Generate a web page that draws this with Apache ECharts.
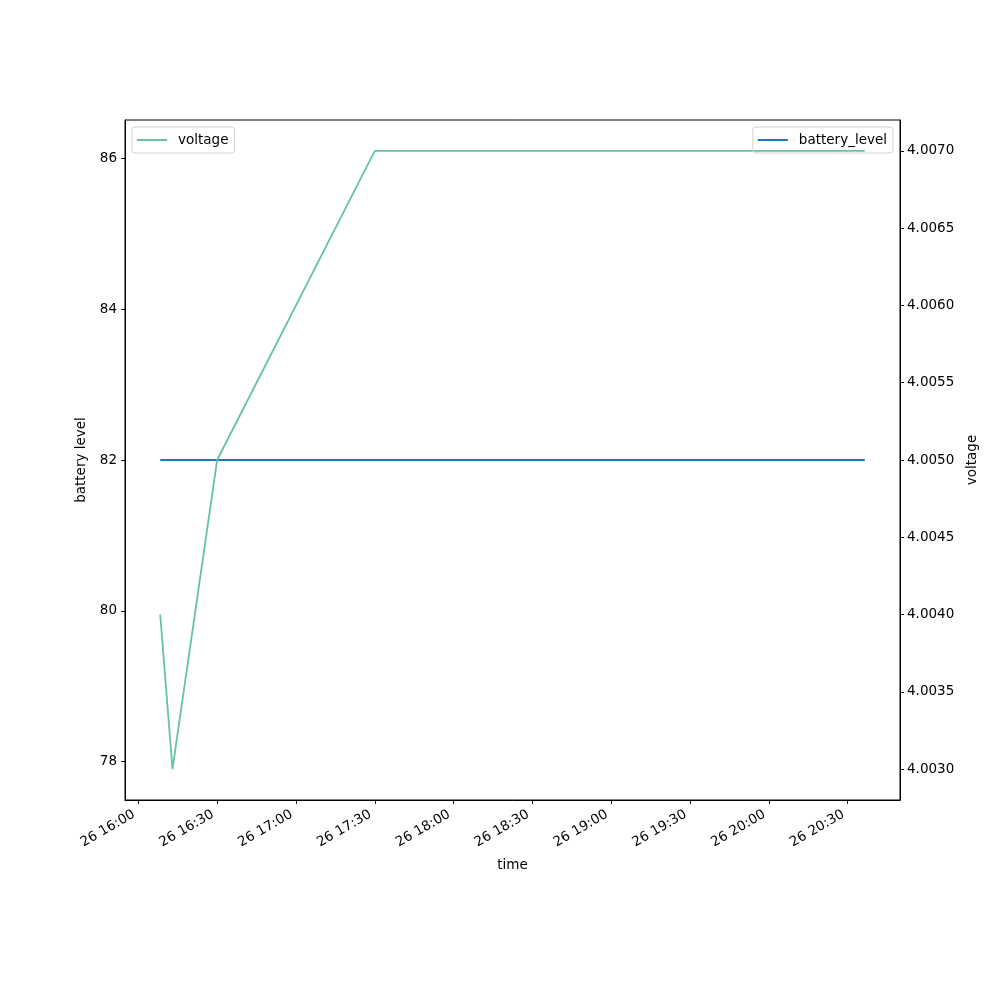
<!DOCTYPE html>
<html><head><meta charset="utf-8">
<script src="https://cdn.jsdelivr.net/npm/echarts@6/dist/echarts.min.js"></script>
<style>html,body{margin:0;padding:0;background:#fff}#c{width:1000px;height:1000px}</style>
</head><body><div id="c"></div>
<script>
const times = ['2024-01-26 16:08:20', '2024-01-26 16:13:00', '2024-01-26 16:30:00', '2024-01-26 17:30:00', '2024-01-26 20:36:30'];
const voltage = [4.0040, 4.0030, 4.0050, 4.0070, 4.0070];
const batteryTimes = ['2024-01-26 16:08:20', '2024-01-26 20:36:30'];
const batteryLevel = [82, 82];
const xTickLabels = ['2024-01-26 16:00', '2024-01-26 16:30', '2024-01-26 17:00', '2024-01-26 17:30', '2024-01-26 18:00', '2024-01-26 18:30', '2024-01-26 19:00', '2024-01-26 19:30', '2024-01-26 20:00', '2024-01-26 20:30'];
const leftTicks = [78, 80, 82, 84, 86];
const rightTicks = [4.0030, 4.0035, 4.0040, 4.0045, 4.0050, 4.0055, 4.0060, 4.0065, 4.0070];

const origin = '2024-01-26 16:00';
function ts(s){ const [d,t]=s.split(' '); const [y,m,dd]=d.split('-').map(Number); const p=t.split(':').map(Number); return Date.UTC(y,m-1,dd,p[0],p[1],p[2]||0); }
const t0 = ts(origin);
const mins = s => (ts(s) - t0) / 60000;
const xTickVals = xTickLabels.map(mins);
const tMin = mins(times[0]), tMax = mins(times[times.length-1]);
const pad = (tMax - tMin) * 0.05;
const fmtX = v => { const d = new Date(t0 + v * 60000); return d.getUTCDate() + ' ' + String(d.getUTCHours()).padStart(2,'0') + ':' + String(d.getUTCMinutes()).padStart(2,'0'); };
const font = 'DejaVu Sans';
const fs = 13.5;
const chart = echarts.init(document.getElementById('c'));
const legendBase = {itemWidth: 30, itemHeight: 2, padding: [6, 6, 6, 5], borderColor: '#d0d0d0', borderWidth: 1, borderRadius: 3, icon: 'rect',
  textStyle: {fontSize: fs, color: '#000', fontFamily: font, padding: [0, 0, 0, 6]}};
chart.setOption({
  animation: false,
  textStyle: {fontFamily: font},
  grid: {left: 125, right: 100, top: 120, bottom: 200, show: true, borderColor: '#000', borderWidth: 1, containLabel: false},
  legend: [
    Object.assign({data: ['voltage'], left: 132, top: 127}, legendBase),
    Object.assign({data: ['battery_level'], right: 107, top: 127}, legendBase)
  ],
  xAxis: {
    type: 'value', min: tMin - pad, max: tMax + pad,
    name: 'time', nameLocation: 'middle', nameGap: 58, nameTextStyle: {fontSize: fs, color: '#000', fontFamily: font},
    axisLine: {show: true, onZero: false, lineStyle: {color: '#000'}},
    axisTick: {show: true, length: 4, lineStyle: {color: '#000'}, customValues: xTickVals},
    axisLabel: {rotate: 30, fontSize: fs, color: '#000', fontFamily: font, margin: 11, padding: [0, 5, 0, 0], customValues: xTickVals, formatter: fmtX},
    splitLine: {show: false}
  },
  yAxis: [
    {type: 'value', min: 77.49, max: 86.51, position: 'left',
      name: 'battery level', nameLocation: 'middle', nameGap: 34, nameTextStyle: {fontSize: fs, color: '#000', fontFamily: font},
      axisLine: {show: true, onZero: false, lineStyle: {color: '#000'}},
      axisTick: {show: true, length: 4, lineStyle: {color: '#000'}, customValues: leftTicks},
      axisLabel: {fontSize: fs, color: '#000', fontFamily: font, margin: 8, customValues: leftTicks},
      splitLine: {show: false}},
    {type: 'value', min: 4.0028, max: 4.0072, position: 'right',
      name: 'voltage', nameLocation: 'middle', nameGap: 64, nameTextStyle: {fontSize: fs, color: '#000', fontFamily: font},
      axisLine: {show: true, onZero: false, lineStyle: {color: '#000'}},
      axisTick: {show: true, length: 4, lineStyle: {color: '#000'}, customValues: rightTicks},
      axisLabel: {fontSize: fs, color: '#000', fontFamily: font, margin: 7, customValues: rightTicks, formatter: v => v.toFixed(4)},
      splitLine: {show: false}}
  ],
  series: [
    {name: 'battery_level', type: 'line', yAxisIndex: 0, showSymbol: false, symbol: 'none', color: '#1f77b4', lineStyle: {width: 1.8, color: '#1f77b4'},
      data: batteryTimes.map((t, i) => [mins(t), batteryLevel[i]])},
    {name: 'voltage', type: 'line', yAxisIndex: 1, showSymbol: false, symbol: 'none', color: '#66c2a5', lineStyle: {width: 1.8, color: '#66c2a5'},
      data: times.map((t, i) => [mins(t), voltage[i]])}
  ]
});
</script></body></html>
